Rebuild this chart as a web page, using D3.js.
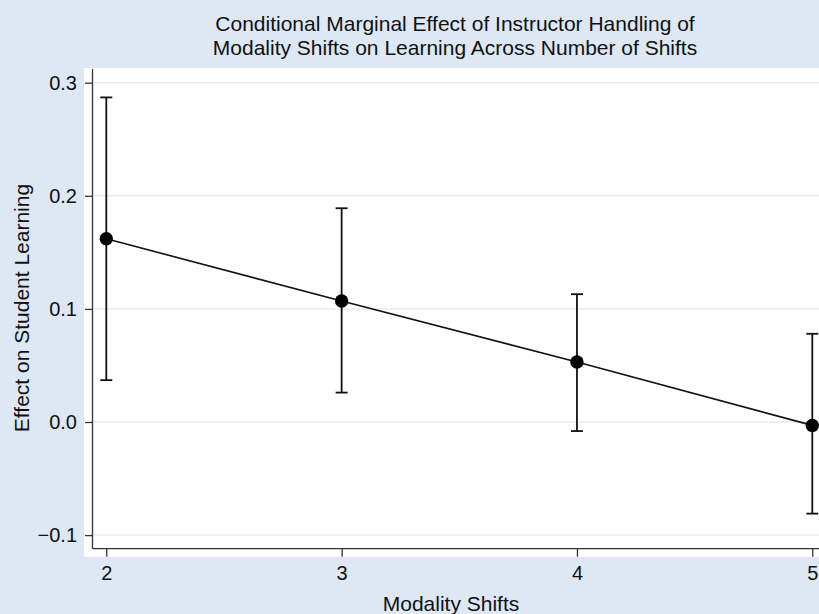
<!DOCTYPE html>
<html>
<head>
<meta charset="utf-8">
<script src="https://cdn.jsdelivr.net/npm/d3@7"></script>
<style>
  body { margin: 0; background: #dde8f4; }
  svg text { font-family: "Liberation Sans", Arial, Helvetica, sans-serif; fill: #111; }
</style>
</head>
<body>
<div id="chart"></div>
<script>
// marginal effect at each number of modality shifts, with 95% CI
var shifts = [2, 3, 4, 5];
var effect = [0.162, 0.107, 0.053, -0.003];
var ciLow = [0.037, 0.026, -0.008, -0.081];
var ciHigh = [0.287, 0.189, 0.113, 0.078];
var yTicks = [-0.1, 0.0, 0.1, 0.2, 0.3];
var titleLines = [
  'Conditional Marginal Effect of Instructor Handling of',
  'Modality Shifts on Learning Across Number of Shifts'
];

var width = 819, height = 614;
var svg = d3.select('#chart').append('svg')
  .attr('width', width)
  .attr('height', height);

svg.append('rect')
  .attr('width', width).attr('height', height)
  .attr('fill', '#dde8f4');

// plot region
svg.append('rect')
  .attr('x', 84).attr('y', 68)
  .attr('width', width - 84).attr('height', 557 - 68)
  .attr('fill', 'white');

var x = d3.scaleLinear().domain([2, 5]).range([106.3, 812.3]);
var y = d3.scaleLinear().domain([-0.1, 0.3]).range([535.1, 82.7]);

var axisX = 92.5, axisY = 548.7;

// grid
svg.selectAll('line.grid').data(yTicks)
  .enter()
    .append('line')
      .attr('class', 'grid')
      .attr('x1', axisX)
      .attr('x2', width)
      .attr('y1', function(d) { return y(d); })
      .attr('y2', function(d) { return y(d); })
      .attr('stroke', '#e6eef1')
      .attr('stroke-width', 1.5);

// y axis
var yAxis = d3.axisLeft(y)
  .tickValues(yTicks)
  .tickSize(7.5)
  .tickPadding(8)
  .tickFormat(function(d) { return d < 0 ? '\u2212' + Math.abs(d).toFixed(1) : d.toFixed(1); });

var gy = svg.append('g')
  .attr('transform', 'translate(' + axisX + ',0)')
  .call(yAxis);
gy.select('.domain').remove();
gy.append('line')
  .attr('x1', 0).attr('x2', 0)
  .attr('y1', 69).attr('y2', axisY)
  .attr('stroke', '#333').attr('stroke-width', 1.3);

// x axis
var xAxis = d3.axisBottom(x)
  .tickValues(shifts)
  .tickSize(8)
  .tickPadding(9)
  .tickFormat(d3.format('d'));

var gx = svg.append('g')
  .attr('transform', 'translate(0,' + axisY + ')')
  .call(xAxis);
gx.select('.domain').remove();
gx.append('line')
  .attr('x1', axisX).attr('x2', width)
  .attr('y1', 0).attr('y2', 0)
  .attr('stroke', '#333').attr('stroke-width', 1.3);

[gx, gy].forEach(function(g) {
  g.selectAll('.tick line').attr('stroke', '#333').attr('stroke-width', 1.3);
  g.selectAll('.tick text')
    .attr('font-size', 20)
    .style('font-family', '"Liberation Sans", Arial, sans-serif')
    .attr('fill', '#111');
});

// error bars
var idx = d3.range(shifts.length);
svg.selectAll('line.ci').data(idx)
  .enter()
    .append('line')
      .attr('class', 'ci')
      .attr('x1', function(i) { return x(shifts[i]); })
      .attr('x2', function(i) { return x(shifts[i]); })
      .attr('y1', function(i) { return y(ciLow[i]); })
      .attr('y2', function(i) { return y(ciHigh[i]); })
      .attr('stroke', '#111')
      .attr('stroke-width', 1.8);

var capW = 6;
['low', 'high'].forEach(function(side) {
  var vals = side === 'low' ? ciLow : ciHigh;
  svg.selectAll('line.cap-' + side).data(idx)
    .enter()
      .append('line')
        .attr('class', 'cap-' + side)
        .attr('x1', function(i) { return x(shifts[i]) - capW; })
        .attr('x2', function(i) { return x(shifts[i]) + capW; })
        .attr('y1', function(i) { return y(vals[i]); })
        .attr('y2', function(i) { return y(vals[i]); })
        .attr('stroke', '#111')
        .attr('stroke-width', 1.8);
});

// line + markers
var line = d3.line()
  .x(function(i) { return x(shifts[i]); })
  .y(function(i) { return y(effect[i]); });

svg.append('path')
  .datum(idx)
  .attr('d', line)
  .attr('fill', 'none')
  .attr('stroke', '#111')
  .attr('stroke-width', 1.6);

svg.selectAll('circle.pt').data(idx)
  .enter()
    .append('circle')
      .attr('class', 'pt')
      .attr('cx', function(i) { return x(shifts[i]); })
      .attr('cy', function(i) { return y(effect[i]); })
      .attr('r', 6.7)
      .attr('fill', '#000');

// titles
var cx = 455;
svg.selectAll('text.title').data(titleLines)
  .enter()
    .append('text')
      .attr('class', 'title')
      .attr('x', cx)
      .attr('y', function(d, i) { return 30.5 + i * 24.3; })
      .attr('text-anchor', 'middle')
      .attr('font-size', 21)
      .text(function(d) { return d; });

svg.append('text')
  .attr('x', 451)
  .attr('y', 611)
  .attr('text-anchor', 'middle')
  .attr('font-size', 21)
  .text('Modality Shifts');

svg.append('text')
  .attr('transform', 'translate(29,308) rotate(-90)')
  .attr('text-anchor', 'middle')
  .attr('font-size', 21)
  .text('Effect on Student Learning');
</script>
</body>
</html>
